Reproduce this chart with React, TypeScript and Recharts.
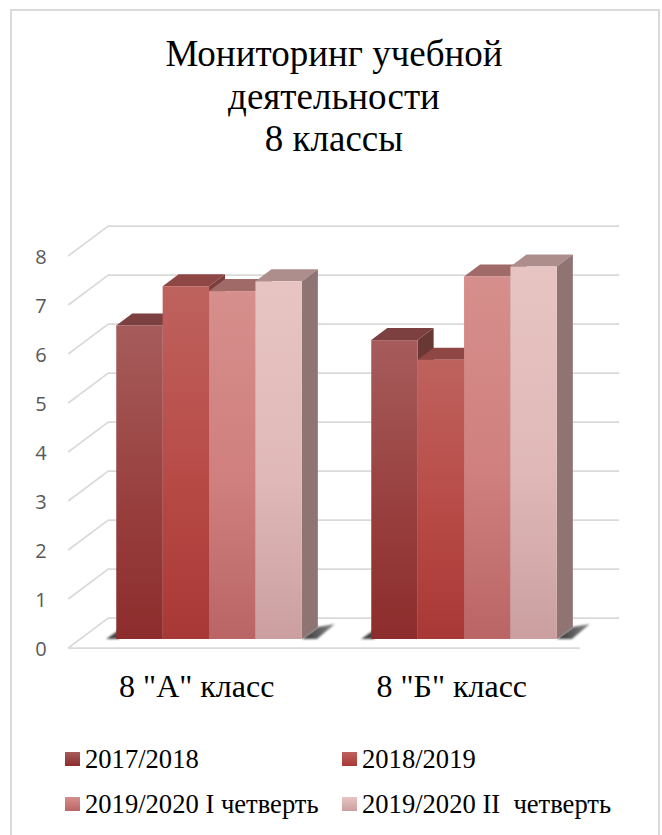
import React from 'react'
import { BarChart, Bar, XAxis, YAxis, CartesianGrid, Legend } from 'recharts'

const categories = ['8 "А" класс', '8 "Б" класс']
const seriesNames = ['2017/2018', '2018/2019', '2019/2020 I четверть', '2019/2020 II  четверть']
const values2017 = [6.4, 6.1]
const values2018 = [7.2, 5.7]
const values2019a = [7.1, 7.4]
const values2019b = [7.3, 7.6]
const yTicks = [0, 1, 2, 3, 4, 5, 6, 7, 8]
const titleLines = ['Мониторинг учебной', 'деятельности', '8 классы']

const data = categories.map((name, i) => ({
  name,
  s0: values2017[i],
  s1: values2018[i],
  s2: values2019a[i],
  s3: values2019b[i],
}))

// top / middle / bottom of the front face, then roof and side faces
const palette = [
  { stops: ['#A65C5B', '#98403F', '#8D2C2C'], roof: '#7D4040', side: '#693835' },
  { stops: ['#BE625E', '#B84A46', '#A83835'], roof: '#8F4746', side: '#7A3E3B' },
  { stops: ['#D68F8C', '#CF7F7E', '#BA6565'], roof: '#A06A69', side: '#8A5C5B' },
  { stops: ['#E7C4C2', '#E0B8B8', '#CB9F9F'], roof: '#AD8E8D', side: '#8E7473' },
]

const DEPTH_X = 16
const DEPTH_Y = 12
const BOTTOM = 639
const FRONT_DX = -13
const FRONT_DY = 9
const BACK_DX = 27
const BACK_DY = -21
const GRID = '#DADADA'
const serif = '"Liberation Serif", serif'

const poly = (pts: number[][]) => pts.map(p => p.join(',')).join(' ')

function bar3d(idx: number) {
  const c = palette[idx]
  return (props: any) => {
    const { x, y, width, height } = props
    const r = x + width
    const b = y + height
    return (
      <g>
        {idx === 0 && (
          <polygon points={poly([[x + 3, b], [x - 10, b], [x + 4, b - 10]])} fill="#444" filter="url(#soft)" />
        )}
        {idx === 3 && (
          <polygon points={poly([[r, b], [r + DEPTH_X, b - DEPTH_Y], [r + 33, b - 15], [r + 15, b]])} fill="url(#shade)" filter="url(#soft)" />
        )}
        <polygon points={poly([[x, y], [x + DEPTH_X, y - DEPTH_Y], [r + DEPTH_X, y - DEPTH_Y], [r, y]])} fill={c.roof} />
        <polygon points={poly([[r, y], [r + DEPTH_X, y - DEPTH_Y], [r + DEPTH_X, b - DEPTH_Y], [r, b]])} fill={c.side} />
        <rect x={x} y={y} width={width} height={height} fill={`url(#front${idx})`} />
      </g>
    )
  }
}

function gridLine(props: any) {
  const { x1, x2, y1 } = props
  const isFloor = Math.abs(y1 - BOTTOM) < 1
  const pts = poly([[x1 + FRONT_DX, y1 + FRONT_DY], [x1 + BACK_DX, y1 + BACK_DY], [x2 + BACK_DX + 1, y1 + BACK_DY]])
  return (
    <g key={props.key}>
      <polyline points={pts} fill="none" stroke={GRID} strokeWidth={1.75} />
      {isFloor && (
        <line x1={x1 + FRONT_DX} y1={y1 + FRONT_DY} x2={x2 - 11} y2={y1 + FRONT_DY} stroke={GRID} strokeWidth={1.75} />
      )}
    </g>
  )
}

function YTick(props: any) {
  return (
    <text x={41} y={props.y + 9} textAnchor="middle" dominantBaseline="central" fontFamily='"Open Sans", sans-serif' fontSize={20} fill="#595959">
      {props.payload.value}
    </text>
  )
}

function XTick(props: any) {
  return (
    <text x={props.x - 12} y={697} textAnchor="middle" fontFamily={serif} fontSize={32} fill="#000">
      {props.payload.value}
    </text>
  )
}

function LegendBox() {
  const cells = [[65, 752], [342, 752], [65, 797], [342, 797]]
  return (
    <div style={{ position: 'relative', width: 662, height: 835 }}>
      {seriesNames.map((name, i) => (
        <div key={name}>
          <div style={{
            position: 'absolute', left: cells[i][0], top: cells[i][1], width: 15, height: 14,
            background: `linear-gradient(${palette[i].stops[0]}, ${palette[i].stops[2]})`,
          }} />
          <div style={{
            position: 'absolute', left: cells[i][0] + 20, top: cells[i][1] - 8, lineHeight: '30px',
            fontFamily: serif, fontSize: 26.6, color: '#000', whiteSpace: 'pre',
          }}>{name}</div>
        </div>
      ))}
    </div>
  )
}

export default function App() {
  return (
    <div style={{ position: 'absolute', left: 0, top: 0, width: 662, height: 835, background: '#fff', overflow: 'hidden' }}>
      <div style={{ position: 'absolute', left: 10, top: 9, width: 646, height: 840, border: `2px solid ${GRID}`, boxSizing: 'content-box' }} />
      <div style={{ position: 'absolute', left: 0, width: 668, top: 33, textAlign: 'center', fontFamily: serif, fontSize: 37, lineHeight: '42.5px', color: '#000' }}>
        {titleLines.map(t => <div key={t}>{t}</div>)}
      </div>
      <BarChart
        width={662}
        height={835}
        data={data}
        barSize={46.4}
        barGap={0}
        margin={{ top: 247, bottom: 195, left: 80.25, right: 70.75 }}
        style={{ position: 'absolute', left: 0, top: 0 }}
      >
        <defs>
          {palette.map((c, i) => (
            <linearGradient key={i} id={`front${i}`} x1="0" y1="0" x2="0" y2="1">
              <stop offset="0%" stopColor={c.stops[0]} />
              <stop offset="55%" stopColor={c.stops[1]} />
              <stop offset="100%" stopColor={c.stops[2]} />
            </linearGradient>
          ))}
          <linearGradient id="shade" x1="0" y1="0" x2="1" y2="0">
            <stop offset="0%" stopColor="#333" />
            <stop offset="100%" stopColor="#8A8A8A" />
          </linearGradient>
          <filter id="soft" x="-30%" y="-30%" width="160%" height="160%">
            <feGaussianBlur stdDeviation="1.2" />
          </filter>
        </defs>
        <CartesianGrid vertical={false} horizontal={gridLine} />
        <XAxis dataKey="name" axisLine={false} tickLine={false} height={1} tick={XTick} interval={0} />
        <YAxis domain={[0, 8]} ticks={yTicks} axisLine={false} tickLine={false} width={1} tick={YTick} interval={0} />
        <Legend verticalAlign="middle" layout="horizontal" content={LegendBox} wrapperStyle={{ left: 0, top: 0, width: 662, height: 835, pointerEvents: 'none' }} />
        <Bar dataKey="s0" name={seriesNames[0]} isAnimationActive={false} shape={bar3d(0)} />
        <Bar dataKey="s1" name={seriesNames[1]} isAnimationActive={false} shape={bar3d(1)} />
        <Bar dataKey="s2" name={seriesNames[2]} isAnimationActive={false} shape={bar3d(2)} />
        <Bar dataKey="s3" name={seriesNames[3]} isAnimationActive={false} shape={bar3d(3)} />
      </BarChart>
    </div>
  )
}
